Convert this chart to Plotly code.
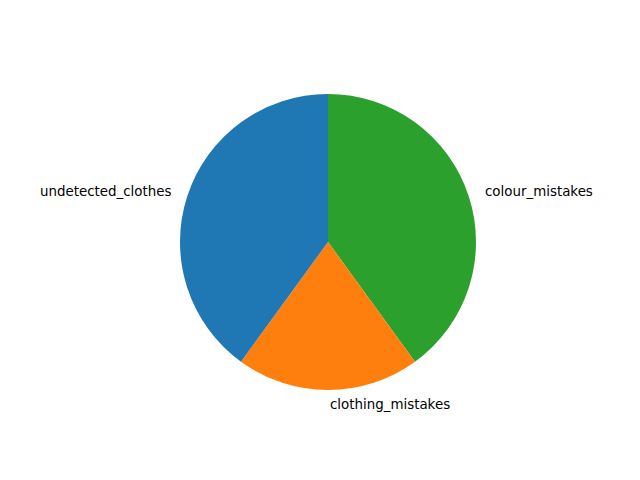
import math
import plotly.graph_objects as go

labels = ["undetected_clothes", "clothing_mistakes", "colour_mistakes"]
values = [40, 20, 40]
colors = ["#1f77b4", "#ff7f0e", "#2ca02c"]

W, H = 640, 480
# the page body adds an 8px offset, so the centre is moved by -8 in figure coords
cx, cy, r = 320, 234, 148

# matplotlib-style: start at 90 deg, counterclockwise -> plotly clockwise with reversed order
fig = go.Figure(go.Pie(
    labels=labels[::-1], values=values[::-1], sort=False, direction="clockwise",
    rotation=0, marker=dict(colors=colors[::-1], line=dict(width=0)),
    textinfo="none",
    domain=dict(x=[(cx - r) / W, (cx + r) / W], y=[1 - (cy + r) / H, 1 - (cy - r) / H]),
    showlegend=False, hoverinfo="label+value",
))

total = sum(values)
cum = 0
annotations = []
for lab, v in zip(labels, values):
    mid = math.radians(90 + 360 * (cum + v / 2) / total)
    cum += v
    dx = 1.1 * r * math.cos(mid)
    dy = 1.1 * r * math.sin(mid)
    annotations.append(dict(
        x=(cx + dx) / W, y=1 - (cy - dy) / H, xref="paper", yref="paper",
        text=lab, showarrow=False,
        xanchor="left" if dx > -1e-6 else "right", yanchor="middle",
        font=dict(family="DejaVu Sans", size=13.4, color="black"),
    ))

fig.update_layout(width=W, height=H, margin=dict(l=0, r=0, t=0, b=0),
                  paper_bgcolor="white", plot_bgcolor="white",
                  annotations=annotations)
fig.write_html("out.html")
